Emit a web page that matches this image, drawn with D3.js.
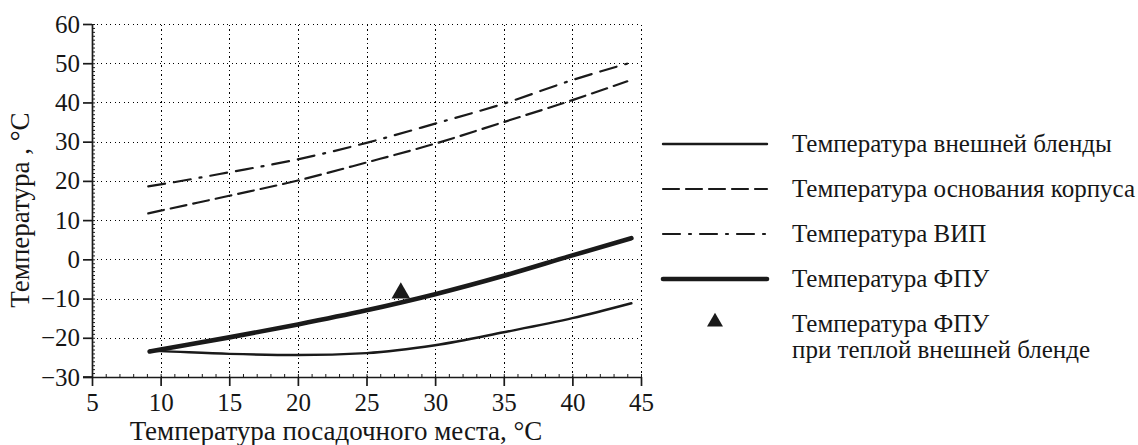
<!DOCTYPE html>
<html><head><meta charset="utf-8">
<script src="https://cdn.jsdelivr.net/npm/d3@7"></script>
<style>
html,body{margin:0;padding:0;background:#fff;}
svg{display:block;}
svg text{font-family:"Liberation Serif","Times New Roman",Times,"DejaVu Serif",serif !important;fill:#161616;}
</style></head>
<body>
<svg id="chart" width="1138" height="445"></svg>
<script>
// ---- data ----
const xTicks = [5, 10, 15, 20, 25, 30, 35, 40, 45];
const yTicks = [-30, -20, -10, 0, 10, 20, 30, 40, 50, 60];

const xBlend = [9.2, 10, 15, 20, 25, 30, 35, 40, 44.3];
const blendTemp = [-23.3, -23.4, -24.1, -24.4, -23.9, -21.9, -18.6, -15.0, -11.2];

const xBase = [9.1, 10, 15, 20, 25, 30, 35, 40, 44.0];
const baseTemp = [11.7, 12.4, 16.2, 20.1, 24.7, 29.5, 35.0, 40.6, 45.4];

const xVip = [9.1, 10, 15, 20, 25, 30, 35, 40, 44.3];
const vipTemp = [18.6, 19.1, 22.2, 25.5, 29.7, 34.6, 39.7, 45.7, 50.2];

const xFpu = [9.2, 10, 15, 20, 25, 30, 35, 40, 44.3];
const fpuTemp = [-23.5, -23.0, -19.9, -16.6, -13.0, -8.9, -4.2, 1.0, 5.4];

const warmPoint = [[27.5, -8.6]];

const legendLabels = [
  "Температура внешней бленды",
  "Температура основания корпуса",
  "Температура ВИП",
  "Температура ФПУ",
  "Температура ФПУ",
  "при теплой внешней бленде"
];
const xTitle = "Температура посадочного места, °C";
const yTitle = "Температура , °C";

// ---- drawing ----
const FONT = '"Liberation Serif", "Times New Roman", Times, "DejaVu Serif", serif';
const svg = d3.select("#chart");
const ink = "#1a1a1a";
const x = d3.scaleLinear().domain([5, 45]).range([92, 641]);
const y = d3.scaleLinear().domain([-30, 60]).range([377, 24]);

// grid
const grid = svg.append("g").attr("stroke", "#000").attr("stroke-width", 1).attr("stroke-dasharray", "1.3,3.2")
  .attr("shape-rendering", "crispEdges");
grid.selectAll("line.v").data(xTicks.filter(d => d > 5)).join("line")
  .attr("x1", d => Math.round(x(d)) + 0.5).attr("x2", d => Math.round(x(d)) + 0.5).attr("y1", y(-30)).attr("y2", y(60));
grid.selectAll("line.h").data(yTicks.filter(d => d > -30)).join("line")
  .attr("y1", d => Math.round(y(d)) + 0.5).attr("y2", d => Math.round(y(d)) + 0.5).attr("x1", x(5)).attr("x2", x(45));

const fmt = d => d < 0 ? "\u2212" + Math.abs(d) : String(d);

// minor ticks
const minorX = svg.append("g").attr("transform", `translate(0,${y(-30)})`)
  .call(d3.axisBottom(x).tickValues(d3.range(5, 46, 1)).tickSize(-3).tickFormat(""));
const minorY = svg.append("g").attr("transform", `translate(${x(5)},0)`)
  .call(d3.axisLeft(y).tickValues(d3.range(-30, 61, 1)).tickSize(-3).tickFormat(""));
[minorX, minorY].forEach(g => { g.select(".domain").remove(); g.selectAll("line").attr("stroke", ink).attr("stroke-width", 1); });

// major axes
const ax = svg.append("g").attr("transform", `translate(0,${y(-30)})`)
  .call(d3.axisBottom(x).tickValues(xTicks).tickSizeInner(9).tickSizeOuter(0).tickPadding(7).tickFormat(fmt));
const ay = svg.append("g").attr("transform", `translate(${x(5)},0)`)
  .call(d3.axisLeft(y).tickValues(yTicks).tickSizeInner(9).tickSizeOuter(0).tickPadding(3).tickFormat(fmt));
[ax, ay].forEach(g => {
  g.attr("font-family", FONT);
  g.select(".domain").attr("stroke", ink).attr("stroke-width", 1.7);
  g.selectAll(".tick line").attr("stroke", ink).attr("stroke-width", 1.7);
  g.selectAll("text").attr("font-size", 25).attr("fill", "#161616");
});
svg.append("line").attr("x1", x(5) - 9).attr("x2", x(5)).attr("y1", y(-30)).attr("y2", y(-30))
  .attr("stroke", ink).attr("stroke-width", 1.7);

// series
const line = d3.line().x(d => x(d[0])).y(d => y(d[1])).curve(d3.curveMonotoneX);
const zip = (xs, ys) => xs.map((v, i) => [v, ys[i]]);
const series = [
  { data: zip(xBase, baseTemp), w: 2.2, dash: "16,7" },
  { data: zip(xVip, vipTemp), w: 2.2, dash: "17,9,17,9,2,9" },
  { data: zip(xBlend, blendTemp), w: 2.4, dash: null },
  { data: zip(xFpu, fpuTemp), w: 4.6, dash: null }
];
series.forEach(s => {
  svg.append("path").datum(s.data).attr("d", line).attr("fill", "none")
    .attr("stroke", ink).attr("stroke-width", s.w).attr("stroke-linecap", "round")
    .attr("stroke-dasharray", s.dash);
});

const tri = d3.symbol().type(d3.symbolTriangle).size(150);
svg.selectAll("path.pt").data(warmPoint).join("path")
  .attr("transform", d => `translate(${x(d[0])},${y(d[1])})`).attr("d", tri).attr("fill", ink);

// axis titles
svg.append("text").attr("x", 336).attr("y", 440).attr("text-anchor", "middle").attr("font-family", FONT).attr("font-size", 27).text(xTitle);
svg.append("text").attr("transform", "translate(29,210) rotate(-90)").attr("text-anchor", "middle").attr("font-family", FONT).attr("font-size", 27).text(yTitle);

// legend
const lg = svg.append("g").attr("font-family", FONT);
const rowsY = [144, 189, 234, 279];
const lstyles = [
  { w: 2.4, dash: null }, { w: 2.2, dash: "16,7" }, { w: 2.2, dash: "17,9,2,9,17,9,2,9" }, { w: 4.6, dash: null }
];
rowsY.forEach((ry, i) => {
  lg.append("line").attr("x1", 663).attr("x2", 767).attr("y1", ry).attr("y2", ry)
    .attr("stroke", ink).attr("stroke-width", lstyles[i].w).attr("stroke-linecap", "round")
    .attr("stroke-dasharray", lstyles[i].dash);
  lg.append("text").attr("x", 792).attr("y", ry + 8).attr("font-size", 25).text(legendLabels[i]);
});
lg.append("path").attr("transform", "translate(715,322)").attr("d", d3.symbol().type(d3.symbolTriangle).size(110)).attr("fill", ink);
lg.append("text").attr("x", 792).attr("y", 332).attr("font-size", 25).text(legendLabels[4]);
lg.append("text").attr("x", 792).attr("y", 358).attr("font-size", 25).text(legendLabels[5]);
</script>
</body></html>
